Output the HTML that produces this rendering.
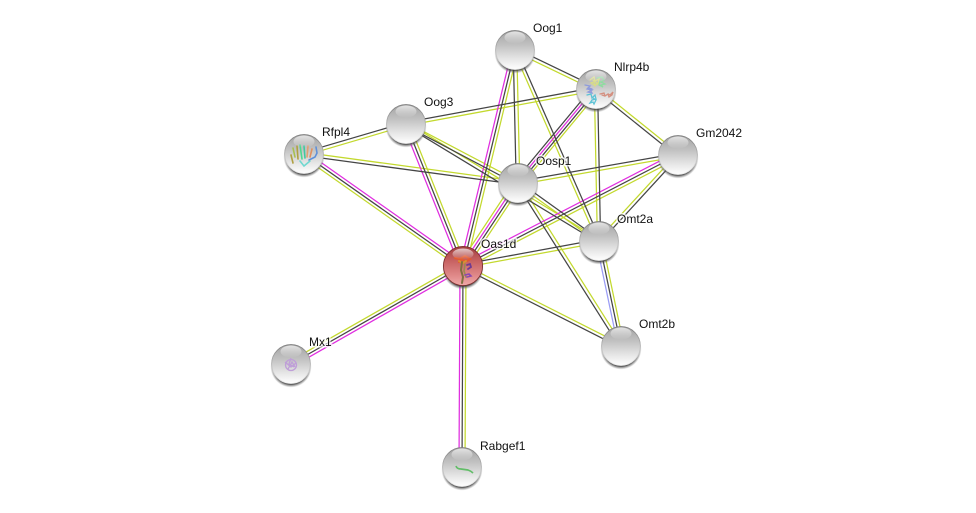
<!DOCTYPE html>
<html><head><meta charset="utf-8"><style>
html,body{margin:0;padding:0;background:#fff;width:976px;height:513px;overflow:hidden}
svg{display:block}
text{font-family:"Liberation Sans",sans-serif;font-size:12px;fill:#111;paint-order:stroke;stroke:rgba(255,255,255,.75);stroke-width:3px}
</style></head><body>
<svg width="976" height="513" viewBox="0 0 976 513" xmlns="http://www.w3.org/2000/svg">
<defs>
<filter id="soft" x="-20%" y="-20%" width="140%" height="140%"><feGaussianBlur stdDeviation=".35"/></filter>
<linearGradient id="gb" x1="0" y1="0" x2="0" y2="1"><stop offset="0" stop-color="#a2a2a2"/><stop offset=".4" stop-color="#c4c4c4"/><stop offset=".75" stop-color="#e8e8e8"/><stop offset="1" stop-color="#fff"/></linearGradient>
<linearGradient id="gr" x1="0" y1="0" x2="0" y2="1"><stop offset="0" stop-color="#a03f3f"/><stop offset=".35" stop-color="#c66060"/><stop offset=".75" stop-color="#e08a8a"/><stop offset="1" stop-color="#efa9a9"/></linearGradient>
<linearGradient id="gh" x1="0" y1="0" x2="0" y2="1"><stop offset="0" stop-color="#fff" stop-opacity=".7"/><stop offset="1" stop-color="#fff" stop-opacity="0"/></linearGradient>
<linearGradient id="gk" x1="0" y1="0" x2="0" y2="1"><stop offset="0" stop-color="#7c7c7c"/><stop offset=".5" stop-color="#b5b5b5"/><stop offset="1" stop-color="#eee"/></linearGradient>
<radialGradient id="gs" cx=".5" cy=".5" r=".5"><stop offset=".84" stop-color="#3c3c3c" stop-opacity=".9"/><stop offset="1" stop-color="#777" stop-opacity="0"/></radialGradient>
<g id="base"><circle cx="0" cy="3" r="20.5" fill="url(#gs)"/><circle r="19.4" fill="url(#gb)" stroke="url(#gk)" stroke-width=".9"/></g>
<g id="high"><ellipse cx="0" cy="-12.5" rx="10.5" ry="6" fill="url(#gh)"/></g>
<line id="e1" x1="463" y1="266" x2="462" y2="467"/>
<line id="e2" x1="463" y1="266" x2="291" y2="364"/>
<line id="e3" x1="463" y1="266" x2="304" y2="154"/>
<line id="e4" x1="463" y1="266" x2="406" y2="124"/>
<line id="e5" x1="463" y1="266" x2="515" y2="50"/>
<line id="e6" x1="463" y1="266" x2="518" y2="183"/>
<line id="e7" x1="463" y1="266" x2="599" y2="241"/>
<line id="e8" x1="463" y1="266" x2="678" y2="155"/>
<line id="e9" x1="463" y1="266" x2="621" y2="346"/>
<line id="e10" x1="518" y1="183" x2="596" y2="89"/>
<line id="e11" x1="515" y1="50" x2="518" y2="183"/>
<line id="e12" x1="515" y1="50" x2="596" y2="89"/>
<line id="e13" x1="515" y1="50" x2="599" y2="241"/>
<line id="e14" x1="406" y1="124" x2="596" y2="89"/>
<line id="e15" x1="304" y1="154" x2="406" y2="124"/>
<line id="e16" x1="304" y1="154" x2="518" y2="183"/>
<line id="e17" x1="406" y1="124" x2="518" y2="183"/>
<line id="e18" x1="406" y1="124" x2="599" y2="241"/>
<line id="e19" x1="596" y1="89" x2="599" y2="241"/>
<line id="e20" x1="596" y1="89" x2="678" y2="155"/>
<line id="e21" x1="518" y1="183" x2="678" y2="155"/>
<line id="e22" x1="599" y1="241" x2="678" y2="155"/>
<line id="e23" x1="518" y1="183" x2="599" y2="241"/>
<line id="e24" x1="518" y1="183" x2="621" y2="346"/>
<line id="e25" x1="599" y1="241" x2="621" y2="346"/>
</defs>
<rect width="976" height="513" fill="#fff"/>
<g fill="none" stroke-width="1.25">
<g stroke="#c3d92e">
<use href="#e1" x="3"/>
<use href="#e2" x="-1.45" y="-2.55"/>
<use href="#e3" x="-1.7" y="2.4"/>
<use href="#e4" x="2.8" y="-1.1"/>
<use href="#e5" x="2.9" y=".7"/>
<use href="#e6" x="-3.4" y="-2.3"/>
<use href="#e6" x="3.4" y="2.3"/>
<use href="#e7" x=".3" y="1.6"/>
<use href="#e8" x="1.35" y="2.65"/>
<use href="#e9" x=".7" y="-1.4"/>
<use href="#e10" x="2.9" y="2.4"/>
<use href="#e11" x="1.8"/>
<use href="#e12" x="-.7" y="1.45"/>
<use href="#e13" x="-1.4" y=".65"/>
<use href="#e14" x=".3" y="1.6"/>
<use href="#e15" x=".45" y="1.55"/>
<use href="#e16" x=".22" y="-1.6"/>
<use href="#e17" x=".75" y="-1.4"/>
<use href="#e18" x=".85" y="-1.4"/>
<use href="#e19" x="-1.6"/>
<use href="#e20" x="1" y="-1.25"/>
<use href="#e21" x=".28" y="1.6"/>
<use href="#e22" x="-1.2" y="-1.1"/>
<use href="#e23" x="-.95" y="1.3"/>
<use href="#e24" x="1.4" y="-.85"/>
<use href="#e25" x="2.9" y="-.6"/>
</g>
<g stroke="#e02ee0">
<use href="#e1" x="-3"/>
<use href="#e2" x="1.45" y="2.55"/>
<use href="#e3" x="1.7" y="-2.4"/>
<use href="#e4" x="-2.8" y="1.1"/>
<use href="#e5" x="-2.9" y="-.7"/>
<use href="#e6" x="-1.1" y="-.75"/>
<use href="#e8" x="-1.35" y="-2.65"/>
<use href="#e10" x="-1" y="-.8"/>
</g>
<g stroke="#9a9cf5"><use href="#e25" x="-2.9" y=".6"/></g>
<g stroke="#454545">
<use href="#e1"/><use href="#e2"/><use href="#e3"/><use href="#e4"/><use href="#e5"/>
<use href="#e6" x="1.1" y=".75"/>
<use href="#e7" x="-.3" y="-1.6"/>
<use href="#e8"/>
<use href="#e9" x="-.7" y="1.4"/>
<use href="#e10" x="1" y=".8"/>
<use href="#e10" x="-2.9" y="-2.4"/>
<use href="#e11" x="-1.8"/>
<use href="#e12" x=".7" y="-1.45"/>
<use href="#e13" x="1.4" y="-.65"/>
<use href="#e14" x="-.3" y="-1.6"/>
<use href="#e15" x="-.45" y="-1.55"/>
<use href="#e16" x="-.22" y="1.6"/>
<use href="#e17" x="-.75" y="1.4"/>
<use href="#e18" x="-.85" y="1.4"/>
<use href="#e19" x="1.6"/>
<use href="#e20" x="-1" y="1.25"/>
<use href="#e21" x="-.28" y="-1.6"/>
<use href="#e22" x="1.2" y="1.1"/>
<use href="#e23" x=".95" y="-1.3"/>
<use href="#e24" x="-1.4" y=".85"/>
<use href="#e25"/>
</g>
</g>

<!-- Nodes -->
<use href="#base" x="515" y="50"/><use href="#high" x="515" y="50"/>
<use href="#base" x="406" y="124"/><use href="#high" x="406" y="124"/>
<use href="#base" x="678" y="155"/><use href="#high" x="678" y="155"/>
<use href="#base" x="518" y="183"/><use href="#high" x="518" y="183"/>
<use href="#base" x="599" y="241"/><use href="#high" x="599" y="241"/>
<use href="#base" x="621" y="346"/><use href="#high" x="621" y="346"/>

<!-- Nlrp4b -->
<use href="#base" x="596" y="89"/>
<g fill="none" stroke-width="1.3" stroke-linecap="round" filter="url(#soft)">
<path d="M585 85l5 1-3 3 5 1-4 2 4 1-3-5 3 1" stroke="#8f9bdc"/>
<path d="M587 95l4-1 1 4 3-3 1 4-4 1-2 3 3-1 1 2 2-4-3-2" stroke="#5cc3d6"/>
<path d="M590 80l4-3 1 4 4-2-1 5-4 1-3-2 3-1 1 4 2-3-4-3" stroke="#d8dc88"/>
<path d="M597 78l5-1 2 3-3 2 4 2-4 1 2 2-4-2 1-4" stroke="#8fdca0"/>
<path d="M600 94l4-1 1 3 3-2 1 3 3-2 1-3-3 3-2-1-3 2-3-1" stroke="#d49080"/>
</g>
<use href="#high" x="596" y="89"/>

<!-- Rfpl4 -->
<use href="#base" x="304" y="154"/>
<g fill="none" stroke-width="1.6" stroke-linecap="round" filter="url(#soft)">
<path d="M293 148l2 9" stroke="#a8c050"/>
<path d="M291 155l2 8M297 146l1 13" stroke="#b0a040"/>
<path d="M300 145l2 14" stroke="#50d890"/>
<path d="M304 146l1 12" stroke="#40c8a0"/>
<path d="M308 146l-1 11" stroke="#e0a070"/>
<path d="M312 149l-2 8" stroke="#e09060"/>
<path d="M316 147l1 6-2 4-6 3" stroke="#6090d8"/>
<path d="M300 161l4 5 6-5" stroke="#70d8d0"/>
</g>
<use href="#high" x="304" y="154"/>

<!-- Oas1d -->
<circle cx="463" cy="269" r="20.5" fill="url(#gs)"/>
<circle cx="463" cy="266" r="19.6" fill="url(#gr)" stroke="#7d2f2f" stroke-width=".9"/>
<g fill="none" stroke-linecap="round" filter="url(#soft)">
<path d="M455 258l5 1 5-3 5 3-3 2-5-1-3 2" stroke="#e05a30" stroke-width="2.2"/>
<path d="M459 261l4 2 3-2" stroke="#d89030" stroke-width="2"/>
<path d="M462 262l-1 8 2 7-1 6" stroke="#7f7040" stroke-width="2"/>
<path d="M465 264l-1 7 2 6" stroke="#9a8a50" stroke-width="1.6"/>
<path d="M467 265l3-1 1 3-3 2" stroke="#703a90" stroke-width="1.8"/>
<path d="M465 275l4-1 2 2-4 1" stroke="#8a4ab0" stroke-width="1.6"/>
</g>
<ellipse cx="463" cy="254" rx="10.5" ry="5.5" fill="url(#gh)"/>

<!-- Mx1 -->
<use href="#base" x="291" y="364"/>
<g fill="none" stroke="#bf9fd8" stroke-width="1.3" filter="url(#soft)">
<circle cx="291" cy="365" r="5.5"/>
<path d="M285 362l6 5 5-4M288 369l4-7 3 5M291 358l-2 6 5 3"/>
</g>
<use href="#high" x="291" y="364"/>

<!-- Rabgef1 -->
<use href="#base" x="462" y="467"/>
<path d="M456 466q1 3 5 3l7 1q3 1 5 3" fill="none" stroke="#62bd68" stroke-width="1.7" filter="url(#soft)"/>
<use href="#high" x="462" y="467"/>

<!-- Labels -->
<text x="533" y="32">Oog1</text>
<text x="614" y="71">Nlrp4b</text>
<text x="424" y="106">Oog3</text>
<text x="322" y="136">Rfpl4</text>
<text x="696" y="137">Gm2042</text>
<text x="536" y="165">Oosp1</text>
<text x="617" y="223">Omt2a</text>
<text x="481" y="248">Oas1d</text>
<text x="639" y="328">Omt2b</text>
<text x="309" y="346">Mx1</text>
<text x="480" y="450">Rabgef1</text>
</svg>
</body></html>
